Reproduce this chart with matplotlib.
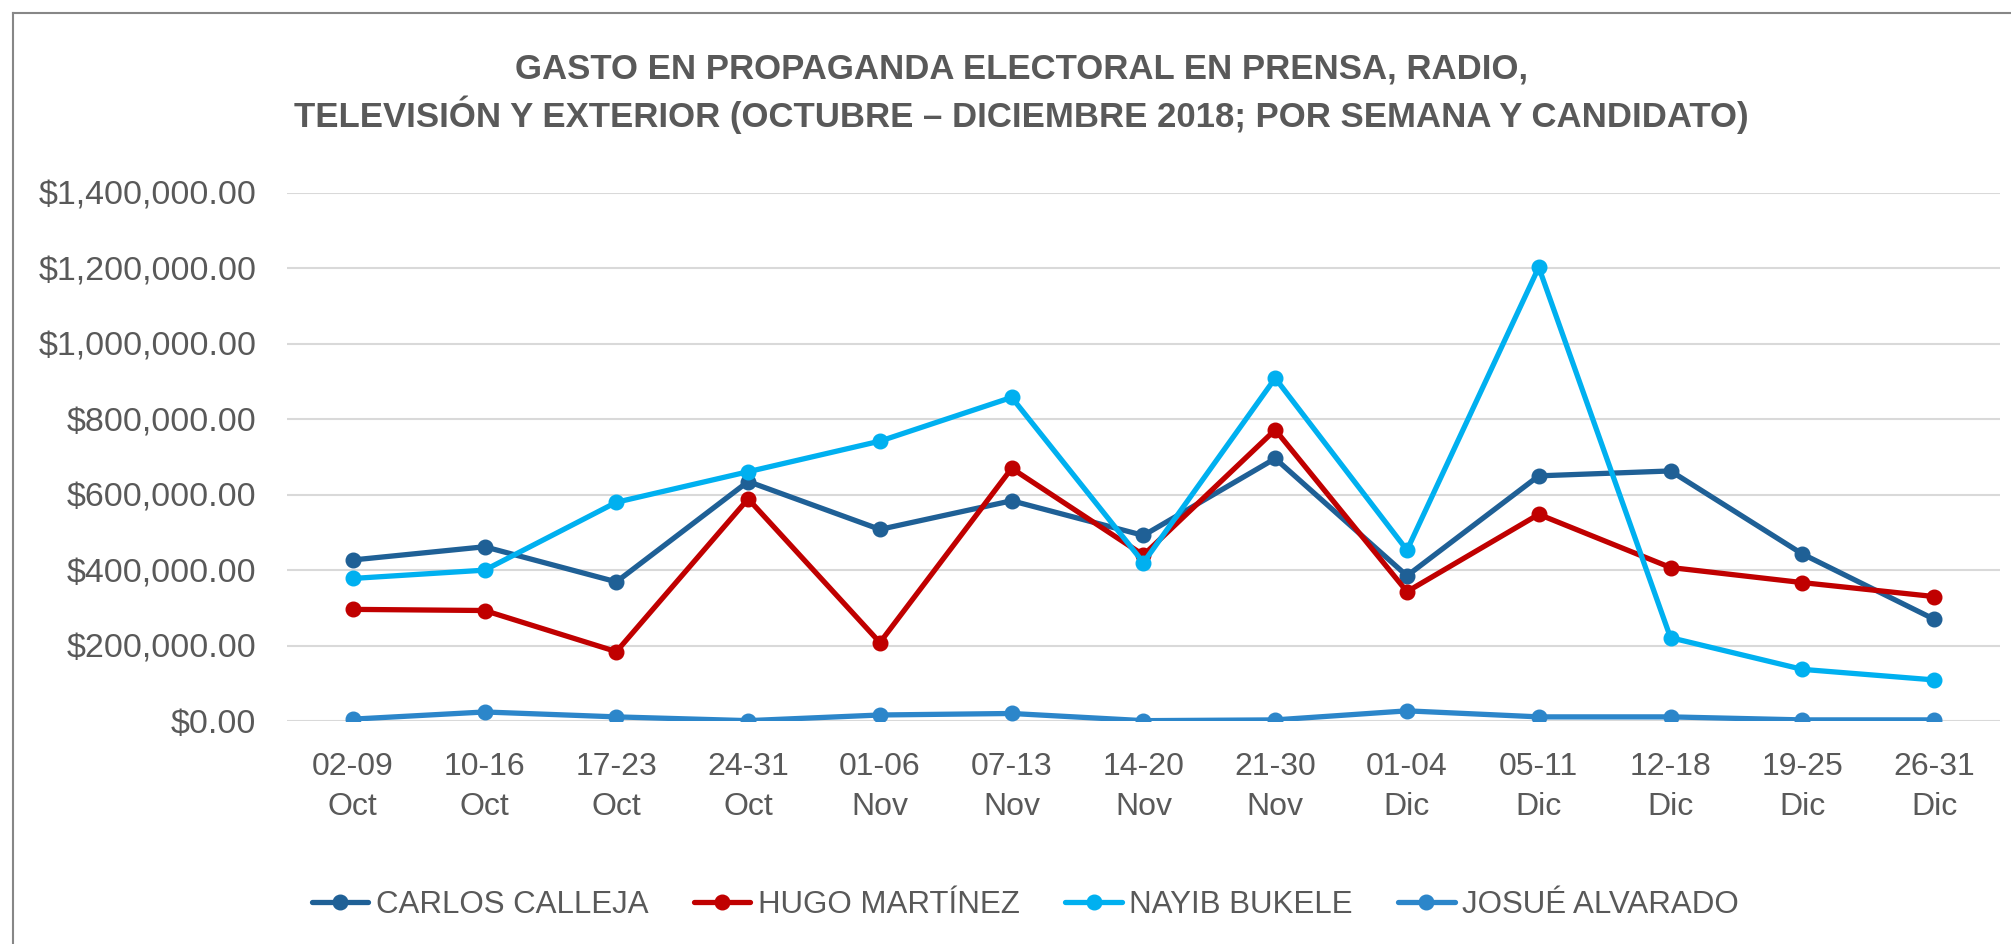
import numpy as np
from matplotlib import pyplot as plt
from matplotlib.lines import Line2D
from matplotlib.ticker import FuncFormatter

weeks = ['02-09\nOct', '10-16\nOct', '17-23\nOct', '24-31\nOct',
         '01-06\nNov', '07-13\nNov', '14-20\nNov', '21-30\nNov',
         '01-04\nDic', '05-11\nDic', '12-18\nDic', '19-25\nDic', '26-31\nDic']
carlos = [427000, 462000, 369000, 635000, 508000, 584000, 492000,
          696000, 385000, 650000, 663000, 443000, 270000]
hugo = [296000, 293000, 184000, 589000, 208000, 670000, 440000,
        772000, 343000, 548000, 407000, 367000, 330000]
nayib = [378000, 400000, 580000, 661000, 742000, 858000, 420000,
         909000, 453000, 1203000, 221000, 137000, 109000]
josue = [5000, 24000, 11000, 1000, 16000, 20000, 1000,
         3000, 27000, 11000, 11000, 3000, 3000]

names = ['CARLOS CALLEJA', 'HUGO MARTÍNEZ', 'NAYIB BUKELE', 'JOSUÉ ALVARADO']
colors = ['#1F6096', '#C00000', '#00B0F0', '#2C86CA']
title = ('GASTO EN PROPAGANDA ELECTORAL EN PRENSA, RADIO,\n'
         'TELEVISIÓN Y EXTERIOR (OCTUBRE – DICIEMBRE 2018; POR SEMANA Y CANDIDATO)')

plt.rcParams['font.family'] = ['Liberation Sans', 'DejaVu Sans']
txt = '#595959'

fig = plt.figure(figsize=(20.11, 9.44), dpi=100)
ax = fig.add_axes([0.1427, 0.2362, 0.8518, 0.5594])

x = np.arange(len(weeks))
for vals, name, c in zip([carlos, hugo, nayib, josue], names, colors):
    ax.plot(x, vals, color=c, lw=3.8, marker='o', ms=10.5, label=name,
            solid_capstyle='round')

ax.set_xlim(-0.5, len(weeks) - 0.5)
ax.set_ylim(0, 1400000)
ax.set_yticks(np.arange(0, 1400001, 200000))
ax.yaxis.set_major_formatter(FuncFormatter(lambda v, p: '${:,.2f}'.format(v)))
ax.set_xticks(x)
ax.set_xticklabels(weeks, linespacing=1.45)
ax.grid(axis='y', color='#D9D9D9', lw=1.5)
ax.set_axisbelow(True)
for s in ax.spines.values():
    s.set_visible(False)
ax.tick_params(length=0, colors=txt)
ax.tick_params(axis='y', labelsize=24.5, pad=22)
ax.tick_params(axis='x', labelsize=23, pad=22)

fig.text(0.508, 0.901, title, ha='center', va='center', fontsize=25,
         fontweight='bold', color=txt, linespacing=1.3)

fig.legend(loc='center', bbox_to_anchor=(0.51, 0.041), ncol=4, frameon=False,
           fontsize=22.5, handlelength=1.8, handletextpad=0.25,
           columnspacing=1.45, labelcolor=txt)

# chart frame (only left and top edges fall inside the image)
fig.add_artist(Line2D([0.0063, 0.0063], [0, 0.986], color='#878787', lw=1.5))
fig.add_artist(Line2D([0.0063, 1.0], [0.986, 0.986], color='#878787', lw=1.5))

plt.savefig('out.png', dpi=100)
